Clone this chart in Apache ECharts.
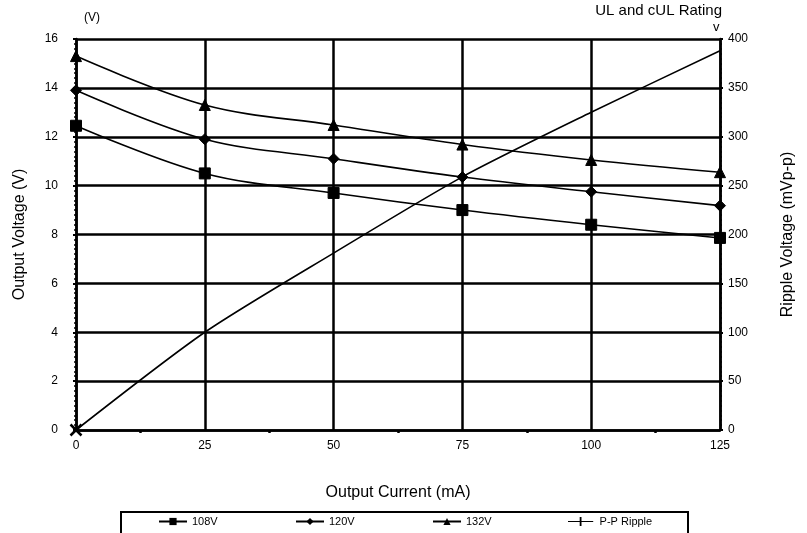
<!DOCTYPE html>
<html><head><meta charset="utf-8">
<script src="https://cdn.jsdelivr.net/npm/echarts@6/dist/echarts.min.js"></script>
<style>html,body{margin:0;padding:0;background:#fff}#c{width:807px;height:533px}</style>
</head><body><div id="c"></div>
<script>
var current = [0, 25, 50, 75, 100, 125];
var v108 = [12.45, 10.5, 9.7, 9.0, 8.4, 7.86];
var v120 = [13.9, 11.9, 11.1, 10.35, 9.75, 9.18];
var v132 = [15.3, 13.3, 12.48, 11.68, 11.05, 10.55];
var ripple = [0, 100, 181, 259, 325, 388];
var xTicks = [0, 25, 50, 75, 100, 125];

function pairs(ys) { return current.map(function (x, i) { return [x, ys[i]]; }); }
var FONT = 'Liberation Sans, Arial, sans-serif';
var chart = echarts.init(document.getElementById('c'));
function lineSeries(name, data, symbol, size) {
  return {
    name: name, type: 'line', data: pairs(data), smooth: 0.35,
    symbol: symbol, symbolSize: size,
    lineStyle: { color: '#000', width: 1.6 },
    itemStyle: { color: '#000', borderColor: '#000' },
    z: 5
  };
}
var rippleData = pairs(ripple).map(function (p, i) {
  return i === 0 ? { value: p, symbol: 'path://M0,0L1,1M1,0L0,1', symbolSize: 11,
    itemStyle: { color: 'none', borderColor: '#000', borderWidth: 2.5 } } : { value: p, symbol: 'none' };
});
function leg(name, left, icon) {
  var d = { name: name };
  if (icon) d.icon = icon;
  return {
    data: [d], left: left, top: 516, itemWidth: 28, itemHeight: 9, itemGap: 4,
    textStyle: { fontFamily: FONT, fontSize: 11, color: '#000' }, padding: 0
  };
}
chart.setOption({
  animation: false,
  backgroundColor: '#fff',
  grid: { left: 76, right: 87, top: 39, bottom: 103 },
  legend: [
    leg('108V', 158),
    leg('120V', 295),
    leg('132V', 432),
    leg('P-P Ripple', 568, 'path://M0,4.5L28,4.5L28,5.5L0,5.5Z M13,0L15,0L15,10L13,10Z')
  ],
  xAxis: {
    type: 'value', min: 0, max: 125, interval: 25,
    name: 'Output Current (mA)', nameLocation: 'middle', nameGap: 55,
    nameTextStyle: { fontFamily: FONT, fontSize: 16, color: '#000' },
    axisLine: { lineStyle: { color: '#000', width: 2.5 } },
    axisTick: { show: false },
    minorTick: { show: true, splitNumber: 2, length: 3, lineStyle: { color: '#000', width: 2.5 } },
    axisLabel: { fontFamily: FONT, fontSize: 12, color: '#000', margin: 10,
      formatter: function (v) { return xTicks.indexOf(v) >= 0 ? String(v) : ''; } },
    splitLine: { show: true, lineStyle: { color: '#000', width: 2.5 } }
  },
  yAxis: [{
    type: 'value', min: 0, max: 16, interval: 2, position: 'left',
    name: 'Output Voltage (V)', nameLocation: 'middle', nameGap: 48, nameRotate: 90,
    nameTextStyle: { fontFamily: FONT, fontSize: 16, color: '#000' },
    axisLine: { show: true, lineStyle: { color: '#000', width: 2.5 } },
    axisTick: { show: true, length: 3, lineStyle: { color: '#000', width: 2 } },
    minorTick: { show: true, splitNumber: 10, length: 2, lineStyle: { color: '#000', width: 1.5 } },
    axisLabel: { fontFamily: FONT, fontSize: 12, color: '#000', margin: 18 },
    splitLine: { show: true, lineStyle: { color: '#000', width: 2.5 } }
  }, {
    type: 'value', min: 0, max: 400, interval: 50, position: 'right',
    name: 'Ripple Voltage (mVp-p)', nameLocation: 'middle', nameGap: 60, nameRotate: 90,
    nameTextStyle: { fontFamily: FONT, fontSize: 16, color: '#000' },
    axisLine: { show: true, lineStyle: { color: '#000', width: 2.5 } },
    axisTick: { show: true, length: 3, lineStyle: { color: '#000', width: 2 } },
    minorTick: { show: true, splitNumber: 10, length: 2, lineStyle: { color: '#000', width: 1.5 } },
    axisLabel: { fontFamily: FONT, fontSize: 12, color: '#000', margin: 8 },
    splitLine: { show: false }
  }],
  graphic: [
    { type: 'text', left: 84, top: 12, style: { text: '(V)', font: '12px ' + FONT, fill: '#000' } },
    { type: 'text', right: 85, top: 3, style: { text: 'UL and cUL Rating', font: '15px ' + FONT, fill: '#000' } },
    { type: 'text', left: 713, top: 21, style: { text: 'v', font: '13px ' + FONT, fill: '#000' } },
    { type: 'rect', shape: { x: 121, y: 512, width: 567, height: 40 }, style: { fill: 'none', stroke: '#000', lineWidth: 2 } }
  ],
  series: [
    lineSeries('108V', v108, 'rect', 11),
    lineSeries('120V', v120, 'diamond', 11),
    lineSeries('132V', v132, 'triangle', 11),
    { name: 'P-P Ripple', type: 'line', yAxisIndex: 1, data: rippleData, smooth: 0.25,
      symbol: 'none', lineStyle: { color: '#000', width: 1.6 }, itemStyle: { color: '#000' }, z: 5 }
  ]
});
</script></body></html>
